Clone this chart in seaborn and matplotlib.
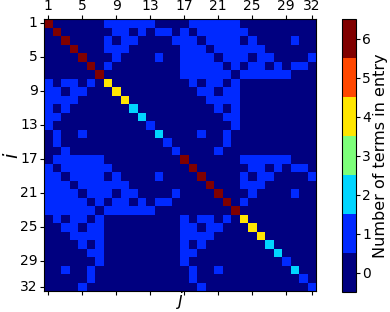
import numpy as np
import seaborn as sns
import matplotlib.pyplot as plt
from matplotlib.colors import ListedColormap

# diagonal block (same for both halves)
block_a = [
    [6,0,0,0,0,0,0,1,1,1,1,1,1,0,0,0],
    [0,6,0,0,0,0,0,0,1,1,0,1,0,1,1,0],
    [0,0,6,0,0,0,0,1,0,1,1,0,0,0,0,1],
    [0,0,0,6,0,0,0,1,1,1,0,0,0,0,0,0],
    [0,0,0,0,6,0,0,0,1,0,0,0,0,1,0,0],
    [0,0,0,0,0,6,0,1,0,0,0,0,0,0,0,0],
    [0,0,0,0,0,0,6,0,0,0,0,0,0,0,0,0],
    [1,0,1,1,0,1,0,4,0,0,0,0,0,0,0,0],
    [1,1,0,1,1,0,0,0,4,0,0,0,0,0,0,0],
    [1,1,1,1,0,0,0,0,0,4,0,0,0,0,0,0],
    [1,0,1,0,0,0,0,0,0,0,2,0,0,0,0,0],
    [1,1,0,0,0,0,0,0,0,0,0,2,0,0,0,0],
    [1,0,0,0,0,0,0,0,0,0,0,0,1,0,0,0],
    [0,1,0,0,1,0,0,0,0,0,0,0,0,2,0,0],
    [0,1,0,0,0,0,0,0,0,0,0,0,0,0,1,0],
    [0,0,1,0,0,0,0,0,0,0,0,0,0,0,0,1],
]

# off-diagonal block
block_b = [
    [0,1,1,1,1,1,1,0,0,0,0,0,0,0,0,0],
    [1,0,1,1,1,1,1,1,0,0,0,0,0,0,0,0],
    [1,1,0,1,1,1,1,0,1,0,0,0,0,1,0,0],
    [1,1,1,0,1,1,1,1,1,1,0,0,0,0,0,0],
    [1,1,1,1,0,1,1,1,0,1,1,0,0,0,0,1],
    [1,1,1,1,1,0,1,0,1,1,0,1,0,1,1,0],
    [1,1,1,1,1,1,0,1,1,1,1,1,1,0,0,0],
    [0,1,0,1,1,0,1,0,0,0,0,0,0,0,0,0],
    [0,0,1,1,0,1,1,0,0,0,0,0,0,0,0,0],
    [0,0,0,1,1,1,1,0,0,0,0,0,0,0,0,0],
    [0,0,0,0,1,0,1,0,0,0,0,0,0,0,0,0],
    [0,0,0,0,0,1,1,0,0,0,0,0,0,0,0,0],
    [0,0,0,0,0,0,1,0,0,0,0,0,0,0,0,0],
    [0,0,1,0,0,1,0,0,0,0,0,0,0,0,0,0],
    [0,0,0,0,0,1,0,0,0,0,0,0,0,0,0,0],
    [0,0,0,0,1,0,0,0,0,0,0,0,0,0,0,0],
]

tick_labels = [1, 5, 9, 13, 17, 21, 25, 29, 32]
cbar_ticks = [0, 1, 2, 3, 4, 5, 6]

A = np.array(block_a)
B = np.array(block_b)
M = np.block([[A, B], [B.T, A]])

cmap = ListedColormap(plt.get_cmap('jet')(np.linspace(0, 1, 7)))

fig = plt.figure(figsize=(3.9, 3.12), dpi=100)
ax = fig.add_axes([44/390, 1-291/312, 272/390, 272/312])
cax = fig.add_axes([342/390, 1-292/312, 14/390, 273/312])

sns.heatmap(M, ax=ax, cbar_ax=cax, cmap=cmap, vmin=-0.5, vmax=6.5)

pos = [t - 0.5 for t in tick_labels]
ax.set_xticks(pos)
ax.set_xticklabels(tick_labels, fontsize=10)
ax.set_yticks(pos)
ax.set_yticklabels(tick_labels, fontsize=10, rotation=0)
ax.tick_params(top=True, labeltop=True, bottom=True, labelbottom=False,
               length=3, width=0.8, pad=1.5)
for s in ax.spines.values():
    s.set_visible(True)
    s.set_linewidth(0.8)
ax.set_xlabel('j', fontsize=12.5, style='italic', va='top')
ax.xaxis.set_label_coords(0.5, 0.0)
ax.set_ylabel('$i$', fontsize=14, labelpad=-1)

cb = ax.collections[0].colorbar
cb.set_ticks(cbar_ticks)
cb.ax.tick_params(labelsize=10, length=3, width=0.8, pad=1.5)
cb.set_label('Number of terms in entry', fontsize=11.5, labelpad=1)
cb.outline.set_visible(True)
cb.outline.set_linewidth(0.8)

fig.savefig('out.png', dpi=100)
